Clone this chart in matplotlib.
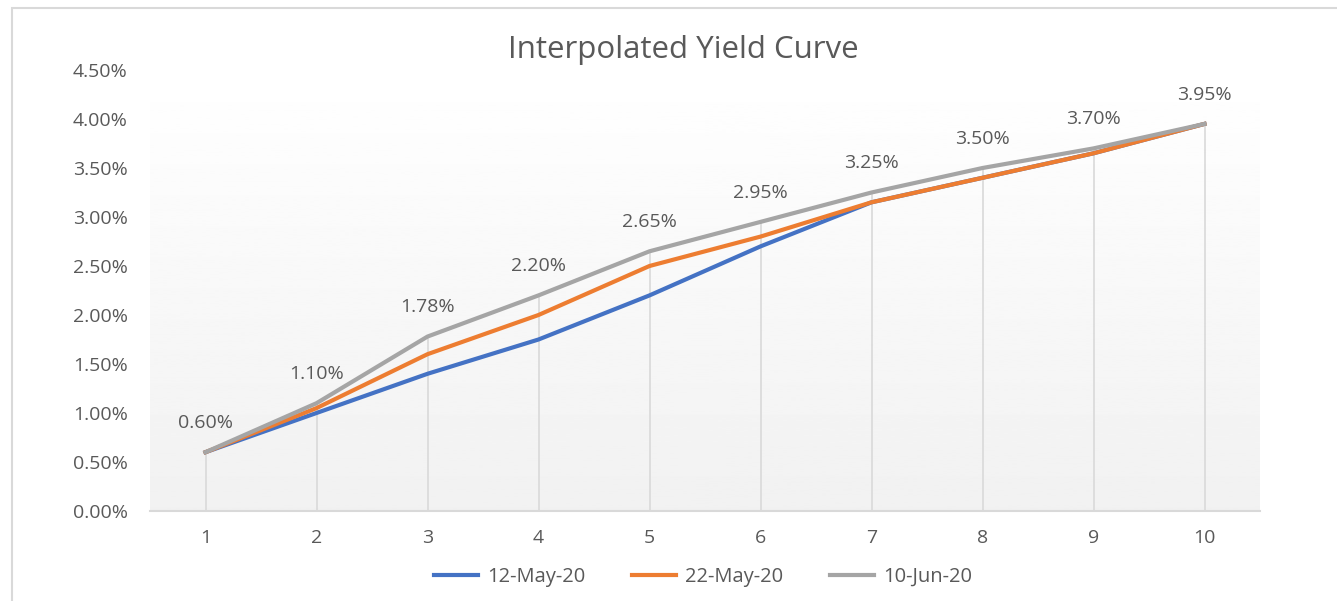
import numpy as np
import matplotlib.pyplot as plt
from matplotlib.patches import Rectangle
from matplotlib.ticker import FuncFormatter

years = [1, 2, 3, 4, 5, 6, 7, 8, 9, 10]
may12 = [0.0060, 0.0100, 0.0140, 0.0175, 0.0220, 0.0270, 0.0315, 0.0340, 0.0365, 0.0395]
may22 = [0.0060, 0.0105, 0.0160, 0.0200, 0.0250, 0.0280, 0.0315, 0.0340, 0.0365, 0.0395]
jun10 = [0.0060, 0.0110, 0.0178, 0.0220, 0.0265, 0.0295, 0.0325, 0.0350, 0.0370, 0.0395]
series_names = ['12-May-20', '22-May-20', '10-Jun-20']

txt = '#595959'
plt.rcParams['font.family'] = ['Open Sans', 'DejaVu Sans']

fig = plt.figure(figsize=(13.37, 6.01), dpi=100)
# chart frame
fig.patches.append(Rectangle((12 / 1337, -0.05), 1.1, 1 - 8 / 601 + 0.05,
                             transform=fig.transFigure, fill=False,
                             edgecolor='#d9d9d9', linewidth=1.5))

ax = fig.add_axes([150 / 1337, 1 - 511 / 601, 1110 / 1337, 441 / 601])
ax.set_xlim(0.5, 10.5)
ax.set_ylim(0, 0.045)

# gradient background of plot area
grad = np.linspace(1.0, 0.945, 256).reshape(-1, 1)
ax.imshow(grad, cmap='gray', vmin=0, vmax=1, aspect='auto',
          extent=[0.5, 10.5, 0, 0.045], origin='upper', zorder=0)

# drop lines
tops = np.max([may12, may22, jun10], axis=0)
ax.vlines(years, 0, tops, color='#d9d9d9', linewidth=1.2, zorder=1)

ax.plot(years, may12, color='#4472C4', linewidth=3, label=series_names[0], zorder=3)
ax.plot(years, may22, color='#ED7D31', linewidth=3, label=series_names[1], zorder=4)
ax.plot(years, jun10, color='#A5A5A5', linewidth=3, label=series_names[2], zorder=5)

for x, v in zip(years, jun10):
    ax.annotate('%.2f%%' % (v * 100), (x, v), xytext=(0, 21), textcoords='offset points',
                ha='center', va='center', fontsize=14, color=txt)

for s in ['top', 'left', 'right']:
    ax.spines[s].set_visible(False)
ax.spines['bottom'].set_color('#d9d9d9')
ax.spines['bottom'].set_linewidth(1.5)

ax.set_xticks(years)
ax.set_yticks(np.arange(0, 0.0451, 0.005))
ax.yaxis.set_major_formatter(FuncFormatter(lambda v, p: '%.2f%%' % (v * 100)))
ax.tick_params(axis='both', length=0, labelsize=14, labelcolor=txt)
ax.tick_params(axis='y', pad=16)
ax.tick_params(axis='x', pad=13)

fig.text(683 / 1337, 1 - 50 / 601, 'Interpolated Yield Curve', ha='center', va='center',
         fontsize=22.5, color=txt)

fig.legend(loc='center', bbox_to_anchor=(703 / 1337, 1 - 577 / 601), ncol=3, frameon=False,
           fontsize=14.5, labelcolor=txt, handlelength=2.2, handletextpad=0.45, columnspacing=2.3)

fig.savefig('out.png', dpi=100)
